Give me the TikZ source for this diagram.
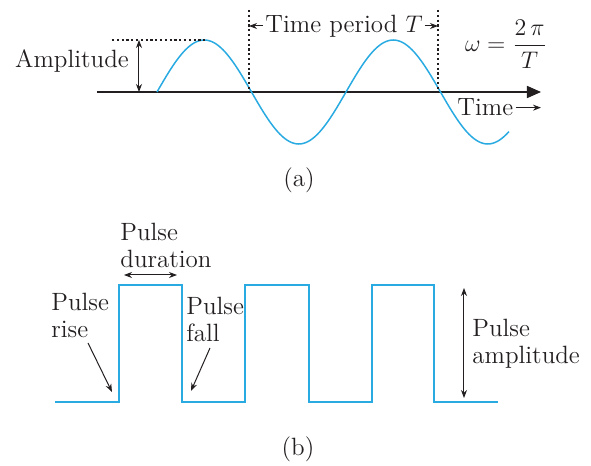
\documentclass[tikz,border=0pt]{standalone}
\usepackage{xcolor}
\usepackage{amsmath,amssymb}
\usepackage{tikz}
\usetikzlibrary{arrows.meta}
\definecolor{sig}{HTML}{29ABE2}
\definecolor{ink}{HTML}{231F20}

\begin{document}
\begin{tikzpicture}[x=0.5pt,y=-0.5pt,
      wv/.style={draw=sig,line width=0.75pt},
      ax/.style={draw=ink,line width=0.75pt},
      dt/.style={draw=ink,line width=0.6pt,dash pattern=on 1.1pt off 1.3pt},
      dbl/.style={draw=ink,line width=0.5pt,{Stealth[length=4pt,width=3pt]}-{Stealth[length=4pt,width=3pt]}},
      arr/.style={draw=ink,line width=0.5pt,-{Stealth[length=4pt,width=3pt]}},
      lbl/.style={font=\fontsize{12.5}{13.5}\selectfont,text=ink,inner sep=0pt,align=left}]
    \useasboundingbox (0,0) rectangle (591,466);
    \coordinate (o) at (97,92); \coordinate (xe) at (541,92);
    \draw[ax,-{Triangle[length=7pt,width=6pt]}] (o) -- (xe);
    \draw[wv] plot[domain=157:509,samples=150,smooth] (\x,{92-52*sin((\x-157)/189*360)});
    \foreach \n/\vx in {1/249,2/438} { \coordinate (v\n t) at (\vx,10); \coordinate (v\n b) at (\vx,92); \draw[dt] (v\n t) -- (v\n b); }
    \coordinate (pk0) at (112,40); \coordinate (pk1) at (207,40); \draw[dt] (pk0) -- (pk1);
    \coordinate (at) at (139,40); \coordinate (ab) at (139,92); \draw[dbl] (at) -- (ab);
    \node[lbl,anchor=base] (amp) at (72,68) {Amplitude};
    \node[lbl] (tp) at (344,26) {Time period $T$};
    \draw[arr,shorten <=1pt] (tp.west) -- (tp.west -| v1t);
    \draw[arr,shorten <=1pt] (tp.east) -- (tp.east -| v2t);
    \node[lbl] (om) at (506,44) {$\omega=\dfrac{2\,\pi}{T}$};
    \node[lbl,anchor=base west] (tm) at (457,116) {Time};
    \coordinate (tmr) at (541,110); \draw[arr,shorten <=1pt] (tm.east) -- (tm.east -| tmr);
    \node[lbl] (capa) at (299,180) {(a)};
    \draw[wv] (55,402) \foreach \a/\b in {119/182,245/309,372/434} { -- (\a,402) -- (\a,285) -- (\b,285) -- (\b,402) } -- (498,402);
    \node[lbl,anchor=west] (pd) at (120,245) {Pulse\\duration};
    \coordinate (dl) at (124,275); \coordinate (dr) at (177,275); \draw[dbl] (dl) -- (dr);
    \node[lbl,anchor=west] (pr) at (51,315) {Pulse\\rise};
    \coordinate (rs) at (88,343); \coordinate (re) at (112,392); \draw[arr] (rs) -- (re);
    \node[lbl,anchor=west] (pf) at (186,319) {Pulse\\fall};
    \coordinate (fs) at (210,348); \coordinate (fe) at (191,391); \draw[arr] (fs) -- (fe);
    \coordinate (pat) at (464,288); \coordinate (pab) at (464,398); \draw[dbl] (pat) -- (pab);
    \node[lbl,anchor=west] (pa) at (472,344) {Pulse\\amplitude};
    \node[lbl] (capb) at (298,449) {(b)};
  \end{tikzpicture}
\end{document}
